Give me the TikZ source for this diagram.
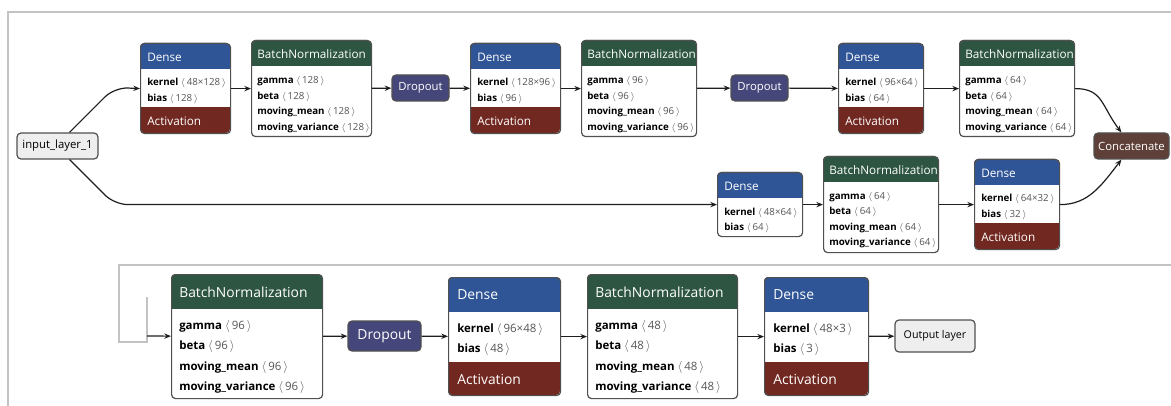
\documentclass[tikz,border=0pt]{standalone}
\usepackage{fontspec}
\setmainfont{Open Sans}
\usepackage{tikz}
\usetikzlibrary{arrows.meta}

\definecolor{densec}{RGB}{47,85,151}
\definecolor{bnc}{RGB}{45,85,65}
\definecolor{actc}{RGB}{113,40,32}
\definecolor{dropc}{RGB}{69,70,122}
\definecolor{catc}{RGB}{94,64,56}
\definecolor{iofill}{RGB}{238,238,238}
\definecolor{bordc}{RGB}{80,80,80}
\definecolor{framec}{RGB}{195,195,195}
\definecolor{numc}{RGB}{85,85,85}
\definecolor{arrc}{RGB}{30,30,30}

\newcommand{\tdim}[1]{{\color{numc}$\langle$\,#1\,$\rangle$}}

\tikzset{
  rc/.style={rounded corners=3pt},
  sz/.style 2 args={minimum width=#1*0.75pt, minimum height=#2*0.75pt},
  lay/.style={draw=bordc, line width=0.9pt, rc, anchor=north west, inner sep=0pt},
  pill/.style={draw=bordc, line width=0.9pt, rc, inner sep=0pt, text=white, font=\fontsize{8.5}{10}\selectfont},
  pillB/.style={pill, font=\fontsize{10.4}{12}\selectfont},
  io/.style={pill, fill=iofill, text=black},
  hd/.style={anchor=west, inner sep=0pt, text=white, font=\fontsize{8.8}{10}\selectfont},
  hdB/.style={hd, font=\fontsize{10.4}{12}\selectfont},
  bd/.style={anchor=west, inner sep=0pt, align=left, font=\fontsize{7.3}{11.6}\selectfont},
  bdB/.style={bd, font=\fontsize{8.6}{15.3}\selectfont},
  arr/.style={draw=arrc, line width=0.9pt, -{Stealth[length=5pt,width=4pt]}},
  fr/.style={draw=framec, line width=1.1pt},
}

\begin{document}
\begin{tikzpicture}[x=0.75pt,y=0.75pt,yscale=-1,xscale=1]
\useasboundingbox (0,0) rectangle (1171,406);

%Frame lines
\draw[fr] (8,406) -- (8,12) -- (1171,12);
\draw[fr] (1171,265) -- (119,265) -- (119,342) -- (147,342) -- (147,297);
\coordinate (lp) at (147,336);

%Input
\node[io, sz={81}{26}] (inp) at (57.5,146) {input\_layer\_1};

% Dense 1
\fill[actc,rc] (140,43) rectangle (230,133);
\fill[densec,rc] (140,43) rectangle (230,77);
\fill[white] (140,69) rectangle (230,107);
\node[lay, sz={90}{90}] (d1) at (140,43) {};
\node[hd] (d1h) at (147,57) {Dense};
\node[bd] (d1k) at (147,91) {\textbf{kernel} \tdim{48×128}\\\textbf{bias} \tdim{128}};
\node[hd] (d1a) at (147,121) {Activation};

% BatchNormalization 1
\fill[bnc,rc] (251,40) rectangle (371,74);
\fill[white] (251,66) rectangle (371,76);
\node[lay, sz={120}{96}] (bn1) at (251,40) {};
\node[hd] (bn1h) at (257,54) {BatchNormalization};
\node[bd] (bn1k) at (257,104.5) {\textbf{gamma} \tdim{128}\\\textbf{beta} \tdim{128}\\\textbf{moving\_mean} \tdim{128}\\\textbf{moving\_variance} \tdim{128}};

% Dropout 1
\node[pill, fill=dropc, sz={57}{26}] (dr1) at (420.5,88) {Dropout};

% Dense 2
\fill[actc,rc] (470,43) rectangle (560,133);
\fill[densec,rc] (470,43) rectangle (560,77);
\fill[white] (470,69) rectangle (560,107);
\node[lay, sz={90}{90}] (d2) at (470,43) {};
\node[hd] (d2h) at (477,57) {Dense};
\node[bd] (d2k) at (477,91) {\textbf{kernel} \tdim{128×96}\\\textbf{bias} \tdim{96}};
\node[hd] (d2a) at (477,121) {Activation};

% BatchNormalization 2
\fill[bnc,rc] (581,40) rectangle (696,74);
\fill[white] (581,66) rectangle (696,76);
\node[lay, sz={115}{96}] (bn2) at (581,40) {};
\node[hd] (bn2h) at (587,54) {BatchNormalization};
\node[bd] (bn2k) at (587,104.5) {\textbf{gamma} \tdim{96}\\\textbf{beta} \tdim{96}\\\textbf{moving\_mean} \tdim{96}\\\textbf{moving\_variance} \tdim{96}};

% Dropout 2
\node[pill, fill=dropc, sz={57}{26}] (dr2) at (759.5,88) {Dropout};

% Dense 3
\fill[actc,rc] (838,43) rectangle (923,133);
\fill[densec,rc] (838,43) rectangle (923,77);
\fill[white] (838,69) rectangle (923,107);
\node[lay, sz={85}{90}] (d3) at (838,43) {};
\node[hd] (d3h) at (845,57) {Dense};
\node[bd] (d3k) at (845,91) {\textbf{kernel} \tdim{96×64}\\\textbf{bias} \tdim{64}};
\node[hd] (d3a) at (845,121) {Activation};

% BatchNormalization 3
\fill[bnc,rc] (959,40) rectangle (1074,74);
\fill[white] (959,66) rectangle (1074,76);
\node[lay, sz={115}{96}] (bn3) at (959,40) {};
\node[hd] (bn3h) at (965,54) {BatchNormalization};
\node[bd] (bn3k) at (965,104.5) {\textbf{gamma} \tdim{64}\\\textbf{beta} \tdim{64}\\\textbf{moving\_mean} \tdim{64}\\\textbf{moving\_variance} \tdim{64}};

% Concatenate
\node[pill, fill=catc, sz={75}{26}] (cc) at (1131.5,146) {Concatenate};

% Dense 4
\fill[densec,rc] (717,172) rectangle (802,206);
\fill[white] (717,198) rectangle (802,208);
\node[lay, sz={85}{64}] (d4) at (717,172) {};
\node[hd] (d4h) at (724,186) {Dense};
\node[bd] (d4k) at (724,220.5) {\textbf{kernel} \tdim{48×64}\\\textbf{bias} \tdim{64}};

% BatchNormalization 4
\fill[bnc,rc] (823,156) rectangle (938,190);
\fill[white] (823,182) rectangle (938,192);
\node[lay, sz={115}{96}] (bn4) at (823,156) {};
\node[hd] (bn4h) at (829,170) {BatchNormalization};
\node[bd] (bn4k) at (829,220) {\textbf{gamma} \tdim{64}\\\textbf{beta} \tdim{64}\\\textbf{moving\_mean} \tdim{64}\\\textbf{moving\_variance} \tdim{64}};

% Dense 5
\fill[actc,rc] (974,159) rectangle (1059,249);
\fill[densec,rc] (974,159) rectangle (1059,193);
\fill[white] (974,185) rectangle (1059,223);
\node[lay, sz={85}{90}] (d5) at (974,159) {};
\node[hd] (d5h) at (981,173) {Dense};
\node[bd] (d5k) at (981,207) {\textbf{kernel} \tdim{64×32}\\\textbf{bias} \tdim{32}};
\node[hd] (d5a) at (981,237) {Activation};

% BatchNormalization 5
\fill[bnc,rc] (171,274) rectangle (322,317);
\fill[white] (171,309) rectangle (322,319);
\node[lay, sz={151}{124}] (bn5) at (171,274) {};
\node[hdB] (bn5h) at (179,292) {BatchNormalization};
\node[bdB] (bn5k) at (179,357) {\textbf{gamma} \tdim{96}\\\textbf{beta} \tdim{96}\\\textbf{moving\_mean} \tdim{96}\\\textbf{moving\_variance} \tdim{96}};

% Dropout 3
\node[pillB, fill=dropc, sz={73}{30}] (dr3) at (384.5,336) {Dropout};

% Dense 6
\fill[actc,rc] (448,277) rectangle (560,395);
\fill[densec,rc] (448,277) rectangle (560,320);
\fill[white] (448,312) rectangle (560,362);
\node[lay, sz={112}{118}] (d6) at (448,277) {};
\node[hdB] (d6h) at (457,295) {Dense};
\node[bdB] (d6k) at (457,339.5) {\textbf{kernel} \tdim{96×48}\\\textbf{bias} \tdim{48}};
\node[hdB] (d6a) at (457,379) {Activation};

% BatchNormalization 6
\fill[bnc,rc] (587,274) rectangle (737,317);
\fill[white] (587,309) rectangle (737,319);
\node[lay, sz={150}{124}] (bn6) at (587,274) {};
\node[hdB] (bn6h) at (595,292) {BatchNormalization};
\node[bdB] (bn6k) at (595,357) {\textbf{gamma} \tdim{48}\\\textbf{beta} \tdim{48}\\\textbf{moving\_mean} \tdim{48}\\\textbf{moving\_variance} \tdim{48}};

% Dense 7
\fill[actc,rc] (764,277) rectangle (868,395);
\fill[densec,rc] (764,277) rectangle (868,320);
\fill[white] (764,312) rectangle (868,362);
\node[lay, sz={104}{118}] (d7) at (764,277) {};
\node[hdB] (d7h) at (773,295) {Dense};
\node[bdB] (d7k) at (773,339.5) {\textbf{kernel} \tdim{48×3}\\\textbf{bias} \tdim{3}};
\node[hdB] (d7a) at (773,379) {Activation};

% Output
\node[io, sz={80}{32}, font=\fontsize{8}{10}\selectfont] (out) at (935,336) {Output layer};

%Straight Lines
\draw[arr, rounded corners=10pt] ([shift={(12,0)}]inp.north) -- ++(45,-45) -- (d1.west);
\draw[arr, rounded corners=10pt] ([shift={(12,0)}]inp.south) -- ++(45,45) -- (d4.west);
\draw[arr] (d1) -- (bn1);
\draw[arr] (bn1) -- (dr1);
\draw[arr] (dr1) -- (d2);
\draw[arr] (d2) -- (bn2);
\draw[arr] (bn2) -- (dr2);
\draw[arr] (dr2) -- (d3);
\draw[arr] (d3) -- (bn3);
\draw[arr] (d4) -- (bn4);
\draw[arr] (bn4) -- (d5);
\draw[arr] (lp) -- (bn5);
\draw[arr] (bn5) -- (dr3);
\draw[arr] (dr3) -- (d6);
\draw[arr] (d6) -- (bn6);
\draw[arr] (bn6) -- (d7);
\draw[arr] (d7) -- (out);

%Curves
\draw[arr] (bn3.east) .. controls +(28,0) and +(-20,-26) .. ([shift={(28,0)}]cc.north west);
\draw[arr] (d5.east) .. controls +(28,0) and +(-20,26) .. ([shift={(28,0)}]cc.south west);

\end{tikzpicture}
\end{document}
